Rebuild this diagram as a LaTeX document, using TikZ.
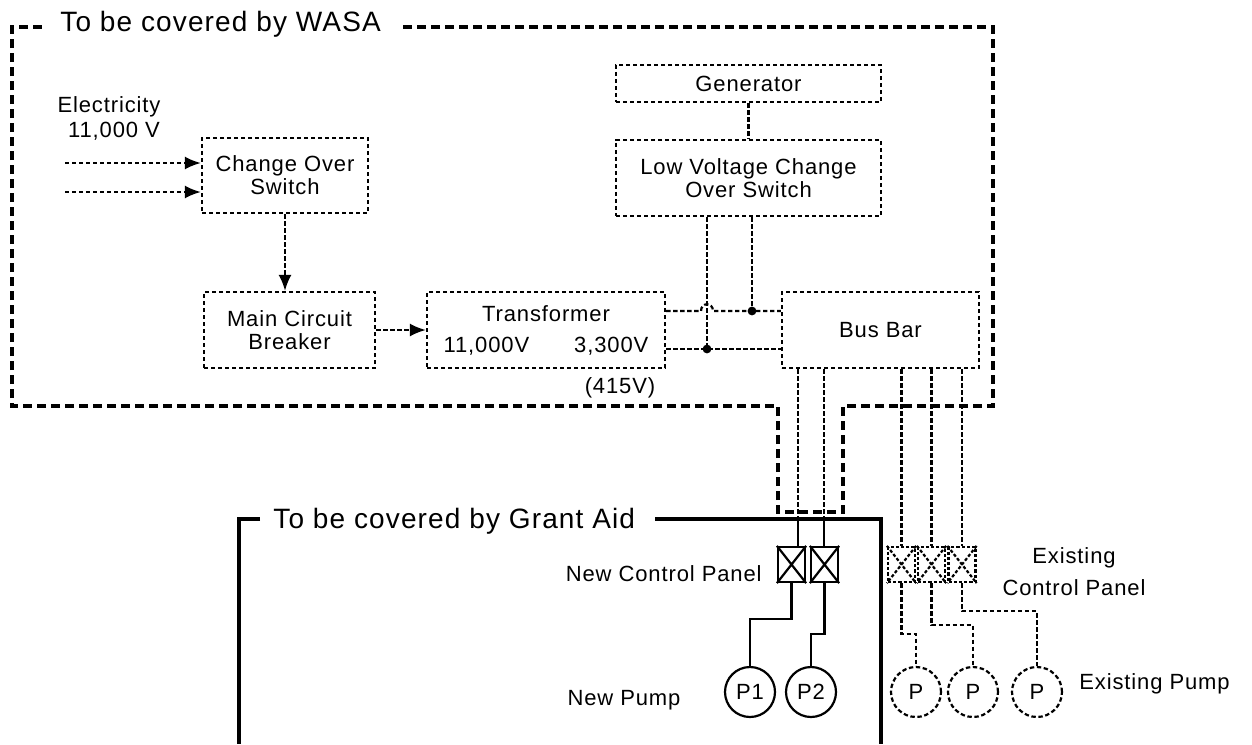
\documentclass[tikz,border=0pt]{standalone}
\usepackage{fontspec}
\setmainfont{Liberation Sans}[LetterSpace=4]
\usetikzlibrary{positioning, calc, arrows, arrows.meta}

\begin{document}
\begin{tikzpicture}[x=0.5pt, y=-0.5pt, >={Latex[length=8pt,width=6.5pt]}]
        \tikzset{ blk/.style ={draw, dash pattern=on 2.2pt off 1.3pt, line width=1.1pt, align=center, inner sep=0pt, font=\fontsize{11}{11.5}\selectfont} }
        \tikzset{ wire/.style ={dash pattern=on 2.2pt off 1.3pt, line width=1.1pt} }
        \tikzset{ cable/.style ={line width=1.1pt} }
        \tikzset{ area/.style ={line width=1.6pt, dash pattern=on 4.5pt off 2.5pt} }
        \tikzset{ ttl/.style ={font=\fontsize{14}{16}\selectfont, anchor=base west, inner sep=0pt} }
        \tikzset{ txt/.style ={font=\fontsize{11}{13}\selectfont, inner sep=0pt} }
        \tikzset{ npan/.style ={draw, line width=1.1pt, minimum width=13.5pt, minimum height=17.5pt, inner sep=0pt} }
        \tikzset{ epan/.style ={npan, dash pattern=on 1.6pt off 1pt} }
        \tikzset{ npmp/.style ={draw, circle, line width=1.1pt, minimum size=25pt, inner sep=0pt, font=\fontsize{11}{13}\selectfont} }
        \tikzset{ epmp/.style ={npmp, dash pattern=on 2.2pt off 1.3pt} }

        \useasboundingbox (0,0) rectangle (1252,744);

        % titles and free texts
        \node[ttl] (wasa)  at (60,32)   {To be covered by WASA};
        \node[ttl] (grant) at (273,528) {To be covered by Grant Aid};
        \node[txt, anchor=base]      (elec) at (109,112) {Electricity};
        \node[txt, anchor=base]      (volt) at (114,137) {11,000 V};
        \node[txt, anchor=base]      (low)  at (620,393) {(415V)};
        \node[txt, anchor=base east] (ncp)  at (762,581) {New Control Panel};
        \node[txt, anchor=base]      (npl)  at (624,705) {New Pump};
        \node[txt, align=center]     (ecp)  at (1074,572) {Existing\\[3pt]Control Panel};
        \node[txt, anchor=base west] (epl)  at (1079,689) {Existing Pump};

        % blocks
        \node[blk, minimum width=83pt,    minimum height=37.5pt] (cos) at (285,175.5)   {Change Over\\Switch};
        \node[blk, minimum width=85.5pt,  minimum height=38pt]   (mcb) at (289.5,330)   {Main Circuit\\Breaker};
        \node[blk, minimum width=119pt,   minimum height=38pt]   (trf) at (546,330)     {Transformer\\[4pt]11,000V\hspace{22.5pt}3,300V};
        \node[blk, minimum width=132.5pt, minimum height=18.5pt] (gen) at (748.5,83.5)  {Generator};
        \node[blk, minimum width=132.5pt, minimum height=38pt]   (lvs) at (748.5,178)   {Low Voltage Change\\Over Switch};
        \node[blk, minimum width=98.5pt,  minimum height=38pt]   (bus) at (880.5,330)   {Bus Bar};

        % control panels
        \node[npan] (np1) at (791.5,564.5) {};
        \node[npan] (np2) at (824.5,564.5) {};
        \node[epan] (ep1) at (901.5,564.5) {};
        \node[epan] (ep2) at (931.5,564.5) {};
        \node[epan] (ep3) at (962,564.5)   {};
        \foreach \pn in {np1,np2} \draw[cable] (\pn.north west) -- (\pn.south east) (\pn.north east) -- (\pn.south west);
        \foreach \pn in {ep1,ep2,ep3} \draw[wire, dash pattern=on 1.6pt off 1pt] (\pn.north west) -- (\pn.south east) (\pn.north east) -- (\pn.south west);

        % pumps
        \node[npmp] (p1) at (750,692)  {P1};
        \node[npmp] (p2) at (811,692)  {P2};
        \node[epmp] (e1) at (916,692)  {P};
        \node[epmp] (e2) at (973,692)  {P};
        \node[epmp] (e3) at (1037,692) {P};

        % areas
        \draw[area] (403,27) -- (993,27) -- (993,406) -- (843,406) -- (843,512) -- (778,512) -- (778,406) -- (12,406) -- (12,27) -- (42,27);
        \draw[line width=1.8pt] (260,519) -- (239,519) -- (239,744);
        \draw[line width=1.8pt] (655,519) -- (881,519) -- (881,744);

        % power flow
        \coordinate (in1) at (65,163);
        \coordinate (in2) at (65,192);
        \coordinate (j1)  at (752,311);
        \coordinate (j2)  at (707,349);
        \coordinate (c1)  at (798,518);
        \coordinate (c2)  at (824,518);

        \draw[wire,->] (in1) -- (in1 -| cos.west);
        \draw[wire,->] (in2) -- (in2 -| cos.west);
        \draw[wire,->] (cos.south) -- (cos.south |- mcb.north);
        \draw[wire,->] (mcb.east) -- (trf.west);
        \draw[wire] (gen) -- (lvs);

        \draw[wire] (trf.east |- j1) -- (701,311) .. controls (701,302) and (713,302) .. (713,311) -- (bus.west |- j1);
        \draw[wire] (trf.east |- j2) -- (bus.west |- j2);
        \draw[wire] (lvs.south -| j1) -- (j1);
        \draw[wire] (lvs.south -| j2) -- (j2);
        \fill (j1) circle (2.2pt);
        \fill (j2) circle (2.2pt);

        \draw[wire] (bus.south -| c1) -- (c1);
        \draw[wire] (bus.south -| c2) -- (c2);
        \draw[cable] (c1) -- (c1 |- np1.north);
        \draw[cable] (c2) -- (c2 |- np2.north);
        \foreach \pn in {ep1,ep2,ep3} \draw[wire] (bus.south -| \pn) -- (\pn.north);

        \draw[cable] (np1.south) -- ++(0,36) -| (p1.north);
        \draw[cable] (np2.south) -- ++(0,51) -| (p2.north);
        \draw[wire] (ep1.south) -- ++(0,51) -| (e1.north);
        \draw[wire] (ep2.south) -- ++(0,42) -| (e2.north);
        \draw[wire] (ep3.south) -- ++(0,28) -| (e3.north);
\end{tikzpicture}
\end{document}
